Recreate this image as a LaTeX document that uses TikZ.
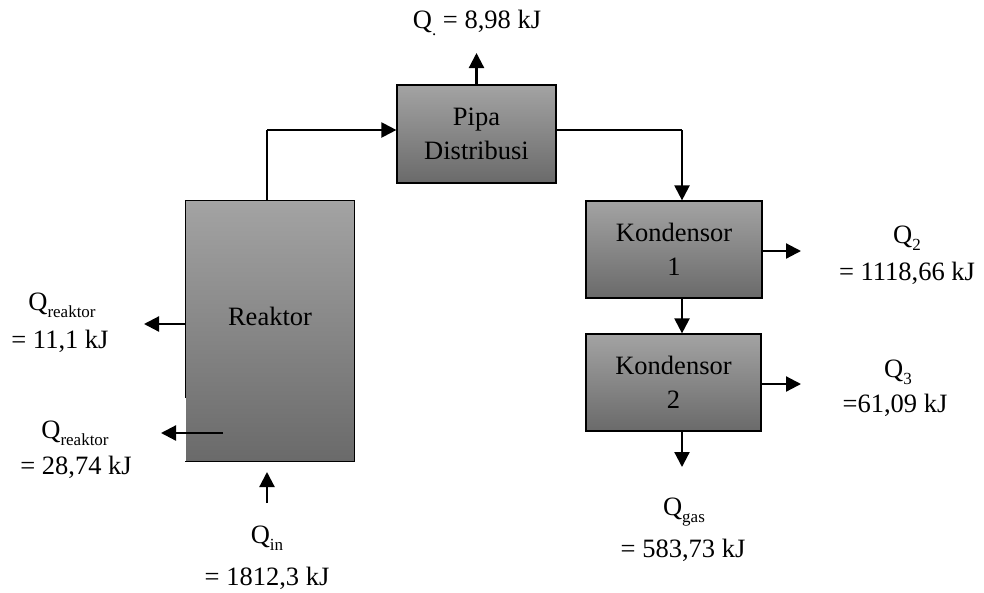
\documentclass[tikz,border=0pt]{standalone}
\usepackage{fontspec}
\setmainfont{Liberation Serif}
\usetikzlibrary{arrows.meta}
\definecolor{boxtop}{RGB}{163,163,163}
\definecolor{boxbot}{RGB}{106,106,106}
% lowered, smaller subscript text
\newcommand\lowsub[1]{\raisebox{-7pt}{\fontsize{17}{17}\selectfont #1}}

\begin{document}
\begin{tikzpicture}[x=1pt,y=-1pt,
  unit/.style={rectangle, top color=boxtop, bottom color=boxbot, draw=black,
    line width=1.2pt, inner sep=0pt, align=center,
    font=\fontsize{26.5}{34}\selectfont},
  lbl/.style={anchor=base, inner sep=0pt, font=\fontsize{26.5}{30}\selectfont},
  flow/.style={line width=2.2pt, -{Triangle[length=15pt,width=15pt]}},
  wire/.style={line width=1.2pt},
  boxline/.style={line width=1.2pt}
]
\useasboundingbox (0,0) rectangle (984,592);

% process units
\node[unit, draw=none, minimum width=168pt, minimum height=260pt] (reaktor) at (270,331) {};
\coordinate (rkgap) at (186,398);
\draw[boxline] (reaktor.west |- rkgap) -- (reaktor.north west) -- (reaktor.north east)
  -- (reaktor.south east) -- (reaktor.south west);
\node[lbl] (reaktortxt) at (270,325) {Reaktor};

\node[unit, minimum width=159pt, minimum height=98pt] (pipa) at (476.5,134) {Pipa\\Distribusi};
\node[unit, minimum width=176pt, minimum height=97pt] (kond1) at (674,249.5) {Kondensor\\1};
\node[unit, minimum width=175pt, minimum height=97pt] (kond2) at (673.5,382.5) {Kondensor\\2};

% heat labels
\node[lbl] (qdot) at (477,28) {Q\lowsub{.} = 8,98 kJ};

\node[lbl] (qr1a) at (62,310) {Q\lowsub{reaktor}};
\node[lbl] (qr1b) at (60,348) {= 11,1 kJ};

\node[lbl] (qr2a) at (75,438) {Q\lowsub{reaktor}};
\node[lbl] (qr2b) at (76,474) {= 28,74 kJ};

\node[lbl] (qina) at (267,543) {Q\lowsub{in}};
\node[lbl] (qinb) at (267,585) {= 1812,3 kJ};

\node[lbl] (qgasa) at (684,515) {Q\lowsub{gas}};
\node[lbl] (qgasb) at (683,557) {= 583,73 kJ};

\node[lbl] (q2a) at (907,243) {Q\lowsub{2}};
\node[lbl] (q2b) at (907,280) {= 1118,66 kJ};

\node[lbl] (q3a) at (898,377) {Q\lowsub{3}};
\node[lbl] (q3b) at (895,412) {=61,09 kJ};

% connector end points
\coordinate (rkup) at (267,130);
\coordinate (pdout) at (682,130);
\coordinate (pdtop) at (476.5,53);
\coordinate (k1out) at (801,251);
\coordinate (k2out) at (801,384);
\coordinate (k2bot) at (682,467);
\coordinate (rkout1) at (144,324);
\coordinate (rkin2) at (223,433);
\coordinate (rkout2) at (161,433);
\coordinate (qinfrom) at (267,503);
\coordinate (qintip) at (267,472);

% flows
\draw[wire] (reaktor.north -| rkup) -- (rkup);
\draw[flow] (rkup) -- (pipa.west |- rkup);
\draw[flow] (pipa.north) -- (pdtop);
\draw[wire] (pipa.east |- pdout) -- (pdout);
\draw[flow] (pdout) -- (kond1.north -| pdout);
\draw[flow] (kond1.east |- k1out) -- (k1out);
\draw[flow] (kond1.south -| pdout) -- (kond2.north -| pdout);
\draw[flow] (kond2.east |- k2out) -- (k2out);
\draw[flow] (kond2.south -| k2bot) -- (k2bot);
\draw[flow] (reaktor.west |- rkout1) -- (rkout1);
\draw[flow] (rkin2) -- (rkout2);
\draw[flow] (qinfrom) -- (qintip);
\end{tikzpicture}
\end{document}
